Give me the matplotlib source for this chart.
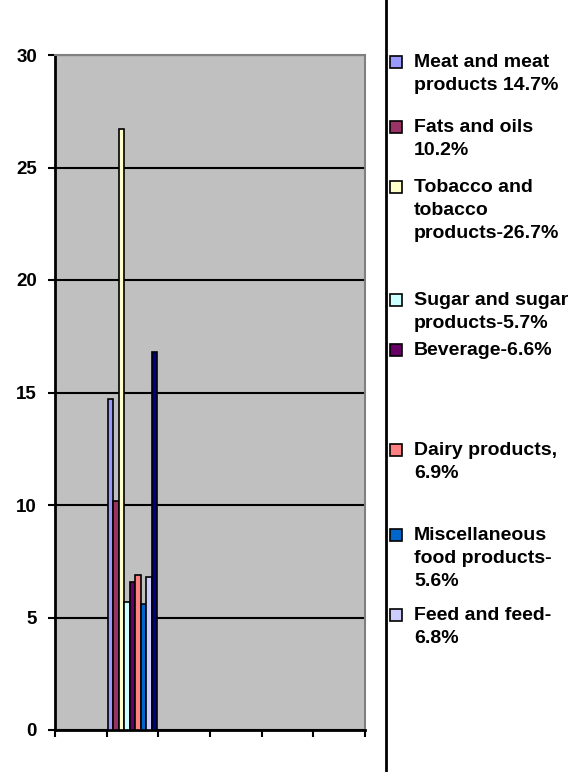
import numpy as np
import matplotlib.pyplot as plt
from matplotlib.patches import Rectangle

plt.rcParams['font.family'] = ['Liberation Sans', 'DejaVu Sans']
plt.rcParams['font.weight'] = 'bold'

# data
categories = ['', '', '', '', '', '']
group_index = 1
series_labels = ['Meat and meat\nproducts 14.7%', 'Fats and oils\n10.2%',
                 'Tobacco and\ntobacco\nproducts-26.7%', 'Sugar and sugar\nproducts-5.7%',
                 'Beverage-6.6%', 'Dairy products,\n6.9%',
                 'Miscellaneous\nfood products-\n5.6%', 'Feed and feed-\n6.8%', '']
series_values = [14.7, 10.2, 26.7, 5.7, 6.6, 6.9, 5.6, 6.8, 16.8]
series_colors = ['#9999FF', '#993366', '#FFFFCC', '#CCFFFF', '#660066',
                 '#FF8080', '#0066CC', '#CCCCFF', '#000080']
y_ticks = [0, 5, 10, 15, 20, 25, 30]

W, H = 568, 772
fig = plt.figure(figsize=(W / 100, H / 100), dpi=100)
ax = fig.add_axes([55 / W, (H - 730) / H, 310 / W, 675 / H])
ax.set_facecolor('#C0C0C0')

n = len(series_values)
group_w = 0.96
bw = group_w / n
start = group_index + (1 - group_w) / 2
for i, (v, c) in enumerate(zip(series_values, series_colors)):
    ax.bar(start + i * bw, v, width=bw, align='edge', color=c,
           edgecolor='black', linewidth=1.2, zorder=3)

ax.set_xlim(0, len(categories))
ax.set_ylim(0, 30)
ax.set_yticks(y_ticks)
ax.set_yticklabels([str(t) for t in y_ticks], fontsize=13.5, fontweight='bold')
ax.set_xticks(np.arange(len(categories) + 1))
ax.set_xticklabels([])
ax.grid(axis='y', color='black', linewidth=1.5, zorder=1)
ax.set_axisbelow(True)
ax.tick_params(axis='both', direction='out', length=5, width=1.5, color='black', pad=8)
for s in ['left', 'bottom']:
    ax.spines[s].set_color('black')
    ax.spines[s].set_linewidth(2)
for s in ['top', 'right']:
    ax.spines[s].set_color('#808080')
    ax.spines[s].set_linewidth(1.5)

# legend box running off the page
fig.patches.append(Rectangle((386 / W, -0.02), 0.4, 1.05, transform=fig.transFigure,
                             facecolor='white', edgecolor='black', linewidth=2, zorder=0))
legend_y = [62, 127, 187, 300, 350, 450, 535, 615, 800]
for lab, c, yy in zip(series_labels, series_colors, legend_y):
    if not lab:
        continue
    fig.patches.append(Rectangle((390 / W, (H - yy - 6) / H), 12 / W, 12 / H,
                                 transform=fig.transFigure, facecolor=c,
                                 edgecolor='black', linewidth=1.2))
    fig.text(414 / W, (H - yy + 8) / H, lab, fontsize=14, fontweight='bold',
             va='top', ha='left', linespacing=1.45)

fig.savefig('out.png', dpi=100)
